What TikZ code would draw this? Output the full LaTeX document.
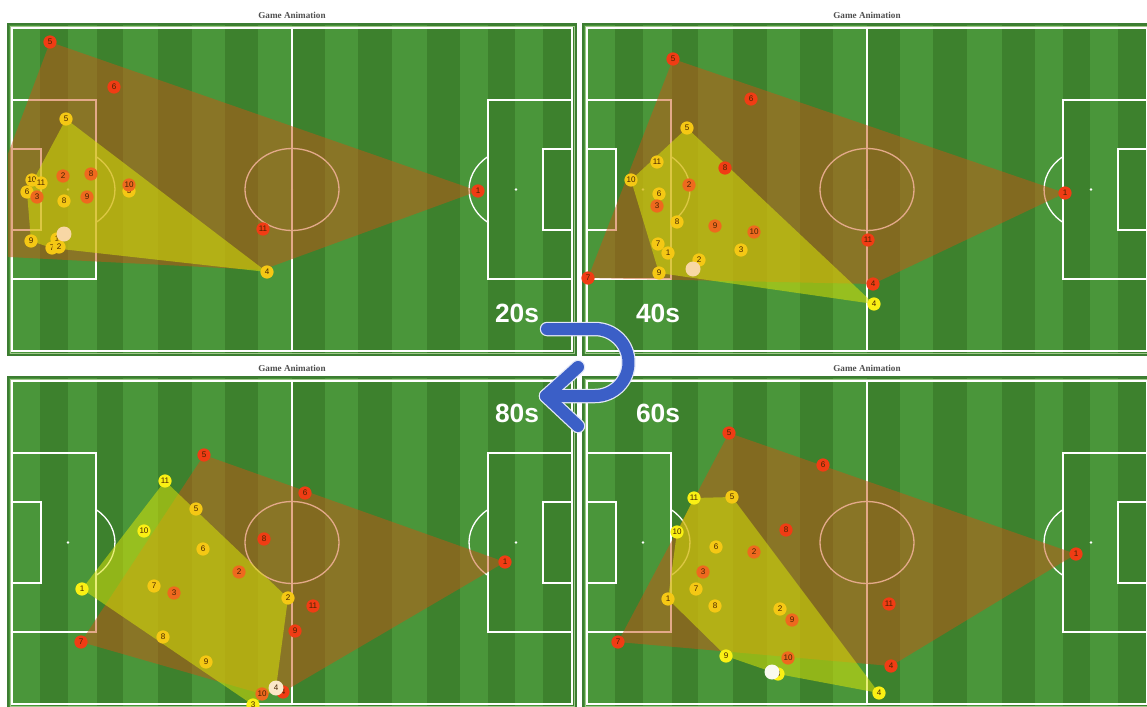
\documentclass[tikz,border=0pt]{standalone}
\usepackage{fontspec}
\setmainfont{Liberation Serif}
\setsansfont{Liberation Sans}
\pgfdeclarelayer{fond}
\pgfdeclarelayer{zones}
\pgfsetlayers{fond,zones,main}

\definecolor{gazonclair}{RGB}{74,150,58}
\definecolor{gazonfonce}{RGB}{61,129,45}
\definecolor{bordvert}{RGB}{60,125,50}
\definecolor{bordclair}{RGB}{160,200,140}
\definecolor{hullrouge}{RGB}{200,85,20}
\definecolor{hulljaune}{RGB}{215,225,10}
\definecolor{jrouge}{RGB}{240,60,20}
\definecolor{jorange}{RGB}{238,105,30}
\definecolor{jor}{RGB}{245,200,20}
\definecolor{jjaune}{RGB}{250,240,20}
\definecolor{ballonpeche}{RGB}{248,215,165}
\definecolor{ballonblanc}{RGB}{250,250,240}
\definecolor{numero}{RGB}{70,35,0}
\definecolor{titregris}{RGB}{80,80,80}
\definecolor{flechebleu}{RGB}{59,95,199}

\tikzset{
  ligne/.style={white, line width=0.75pt},
  cadre/.style={draw=bordvert, line width=0.7pt},
  joueur/.style={circle, fill=#1, minimum size=0.265cm, inner sep=0pt,
    font=\sffamily\fontsize{4.6}{4.6}\selectfont, text=numero},
  ballon/.style={circle, fill=#1, minimum size=0.3cm, inner sep=0pt,
    font=\sffamily\fontsize{4.6}{4.6}\selectfont, text=numero},
  zonerouge/.style={fill=hullrouge, fill opacity=0.5},
  zonejaune/.style={fill=hulljaune, fill opacity=0.55},
  titre/.style={font=\bfseries\fontsize{5.2}{6}\selectfont, text=titregris},
  temps/.style={font=\sffamily\bfseries\fontsize{15}{15}\selectfont, text=white},
  fleche/.style={draw=flechebleu, line width=0.24cm, line cap=round, line join=round},
  contour/.style={draw=white!85!flechebleu, line width=0.29cm, line cap=round, line join=round},
}

% terrain : coin haut gauche des lignes en (#1,#2)
\newcommand{\terrain}[2]{%
  \begin{scope}[shift={(#1,#2)}]
    % bandes
    \foreach \a/\b [count=\i] in {-4/28,28/56,56/85,85/111,111/146,146/180,180/213,213/246,246/280,
        280/313,313/346,346/380,380/415,415/448,448/476,476/503,503/531,531/564}{
      \ifodd\i \fill[gazonclair] (\a,-4) rectangle (\b,327);
      \else \fill[gazonfonce] (\a,-4) rectangle (\b,327); \fi
    }
    \draw[cadre] (-4,-4) rectangle (564,327);
    \draw[bordclair, line width=0.35pt] (-2,-2) rectangle (562,325);
    % lignes
    \draw[ligne] (0,0) rectangle (560,323);
    \draw[ligne] (280,0) -- (280,323);
    \draw[ligne] (280,161.5) ellipse [x radius=47, y radius=41];
    \fill[white] (280,161.5) circle (1.2);
    % surfaces
    \draw[ligne] (0,72) rectangle (84,251);
    \draw[ligne] (0,121) rectangle (29,202);
    \draw[ligne] (560,72) rectangle (476,251);
    \draw[ligne] (560,121) rectangle (531,202);
    \fill[white] (56,161.5) circle (1.4);
    \fill[white] (504,161.5) circle (1.4);
    \draw[ligne] (84,128.6) arc[start angle=-53.4, end angle=53.4, x radius=47, y radius=41];
    \draw[ligne] (476,128.6) arc[start angle=233.4, end angle=126.6, x radius=47, y radius=41];
    % buts
    \draw[white, line width=1.6pt] (0,145) -- (0,178);
    \draw[white, line width=1.6pt] (560,145) -- (560,178);
  \end{scope}}

\begin{document}
\begin{tikzpicture}[x=0.02cm, y=-0.02cm]
  \useasboundingbox (0,0) rectangle (1147,707);
  \begin{pgfonlayer}{fond}
    \fill[white] (0,0) rectangle (1147,707);
    \terrain{12}{28}
    \terrain{587}{28}
    \terrain{12}{381}
    \terrain{587}{381}
  \end{pgfonlayer}

  % titres
  \node[titre] (titreHG) at (292,15) {Game Animation};
  \node[titre] (titreHD) at (867,15) {Game Animation};
  \node[titre] (titreBG) at (292,368) {Game Animation};
  \node[titre] (titreBD) at (867,368) {Game Animation};

  % 20s
  \foreach \x/\y/\n/\s in {66/119/5/jor, 32/180/10/jor, 41/183/11/jor, 27/192/6/jor, 64/201/8/jor,
      129/191/3/jor, 31/241/9/jor, 57/239/1/jor, 52/248/7/jor, 59/247/2/jor, 267/272/4/jor}
    \node[joueur=\s] (tlJ\n) at (\x,\y) {\n};
  \foreach \x/\y/\n/\s in {50/42/5/jrouge, 114/87/6/jrouge, 63/176/2/jorange, 91/174/8/jorange,
      87/197/9/jorange, 37/197/3/jorange, 129/185/10/jorange, 263/229/11/jrouge, 478/191/1/jrouge}
    \node[joueur=\s] (tlR\n) at (\x,\y) {\n};
  \coordinate (tlR4) at (262,270);
  \coordinate (tlR7) at (-30,255);
  \node[ballon=ballonpeche] (tlB) at (64,234) {};

  % 40s
  \foreach \x/\y/\n/\s in {687/128/5/jor, 657/162/11/jor, 631/180/10/jor, 659/194/6/jor, 677/222/8/jor,
      658/244/7/jor, 668/253/1/jor, 699/260/2/jor, 659/273/9/jor, 741/250/3/jor, 874/304/4/jjaune}
    \node[joueur=\s] (trJ\n) at (\x,\y) {\n};
  \foreach \x/\y/\n/\s in {673/59/5/jrouge, 751/99/6/jrouge, 725/168/8/jrouge, 689/185/2/jorange,
      657/206/3/jorange, 715/226/9/jorange, 754/232/10/jorange, 588/278/7/jrouge, 868/240/11/jrouge,
      873/284/4/jrouge, 1065/193/1/jrouge}
    \node[joueur=\s] (trR\n) at (\x,\y) {\n};
  \node[ballon=ballonpeche] (trB) at (693,269) {};

  % 80s
  \foreach \x/\y/\n/\s in {165/481/11/jjaune, 196/509/5/jor, 144/531/10/jjaune, 203/549/6/jor,
      82/589/1/jjaune, 154/586/7/jor, 163/637/8/jor, 206/662/9/jor, 288/598/2/jor, 253/705/3/jjaune}
    \node[joueur=\s] (blJ\n) at (\x,\y) {\n};
  \foreach \x/\y/\n/\s in {204/455/5/jrouge, 305/493/6/jrouge, 264/539/8/jrouge, 239/572/2/jorange,
      174/593/3/jorange, 81/642/7/jrouge, 313/606/11/jrouge, 295/631/9/jrouge, 505/562/1/jrouge,
      262/694/10/jorange, 283/692/4/jrouge}
    \node[joueur=\s] (blR\n) at (\x,\y) {\n};
  \node[ballon=ballonpeche!60!white] (blB) at (276,688) {4};

  % 60s
  \foreach \x/\y/\n/\s in {694/498/11/jjaune, 732/497/5/jor, 677/532/10/jjaune, 716/547/6/jor,
      696/589/7/jor, 668/599/1/jor, 715/606/8/jor, 780/609/2/jor, 726/656/9/jjaune,
      778/674/3/jjaune, 879/693/4/jjaune}
    \node[joueur=\s] (brJ\n) at (\x,\y) {\n};
  \foreach \x/\y/\n/\s in {729/433/5/jrouge, 823/465/6/jrouge, 786/530/8/jrouge, 754/552/2/jorange,
      703/572/3/jorange, 792/620/9/jorange, 788/658/10/jorange, 618/642/7/jrouge, 889/604/11/jrouge,
      891/666/4/jrouge, 1076/554/1/jrouge}
    \node[joueur=\s] (brR\n) at (\x,\y) {\n};
  \node[ballon=ballonblanc] (brB) at (772,672) {};

  % zones
  \begin{pgfonlayer}{zones}
    \begin{scope}
      \clip (8,24) rectangle (576,355);
      \fill[zonerouge] (tlR5.center) -- (tlR1.center) -- (tlR4) -- (tlR7) -- cycle;
      \fill[zonejaune] (tlJ5.center) -- (tlJ4.center) -- (tlJ7.center) -- (tlJ9.center) -- (tlJ6.center) -- cycle;
    \end{scope}
    \begin{scope}
      \clip (583,24) rectangle (1151,355);
      \fill[zonerouge] (trR5.center) -- (trR1.center) -- (trR4.center) -- (trR7.center) -- cycle;
      \fill[zonejaune] (trJ5.center) -- (trJ4.center) -- (trJ9.center) -- (trJ10.center) -- cycle;
    \end{scope}
    \begin{scope}
      \clip (8,377) rectangle (576,708);
      \fill[zonerouge] (blR5.center) -- (blR1.center) -- (blR4.center) -- (blR10.center) -- (blR7.center) -- cycle;
      \fill[zonejaune] (blJ11.center) -- (blJ2.center) -- (blB.center) -- (blJ3.center) -- (blJ1.center) -- cycle;
    \end{scope}
    \begin{scope}
      \clip (583,377) rectangle (1151,708);
      \fill[zonerouge] (brR5.center) -- (brR1.center) -- (brR4.center) -- (brR7.center) -- cycle;
      \fill[zonejaune] (brJ11.center) -- (brJ5.center) -- (brJ4.center) -- (brJ3.center) -- (brJ9.center)
        -- (brJ1.center) -- (brJ10.center) -- cycle;
    \end{scope}
  \end{pgfonlayer}

  % temps
  \node[temps] (t20) at (517,313) {20s};
  \node[temps] (t40) at (658,313) {40s};
  \node[temps] (t80) at (517,413) {80s};
  \node[temps] (t60) at (658,413) {60s};

  % fleche
  \coordinate (fdeb) at (547,329);
  \coordinate (fcoude) at (595,329);
  \coordinate (fpointe) at (546,396);
  \coordinate (faileh) at (578,367);
  \coordinate (faileb) at (578,426);
  \draw[contour] (fdeb) -- (fcoude) arc[start angle=-90, end angle=90, radius=33.5] -- (fpointe);
  \draw[contour] (faileh) -- (fpointe) -- (faileb);
  \draw[fleche] (fdeb) -- (fcoude) arc[start angle=-90, end angle=90, radius=33.5] -- (fpointe);
  \draw[fleche] (faileh) -- (fpointe) -- (faileb);
\end{tikzpicture}
\end{document}
